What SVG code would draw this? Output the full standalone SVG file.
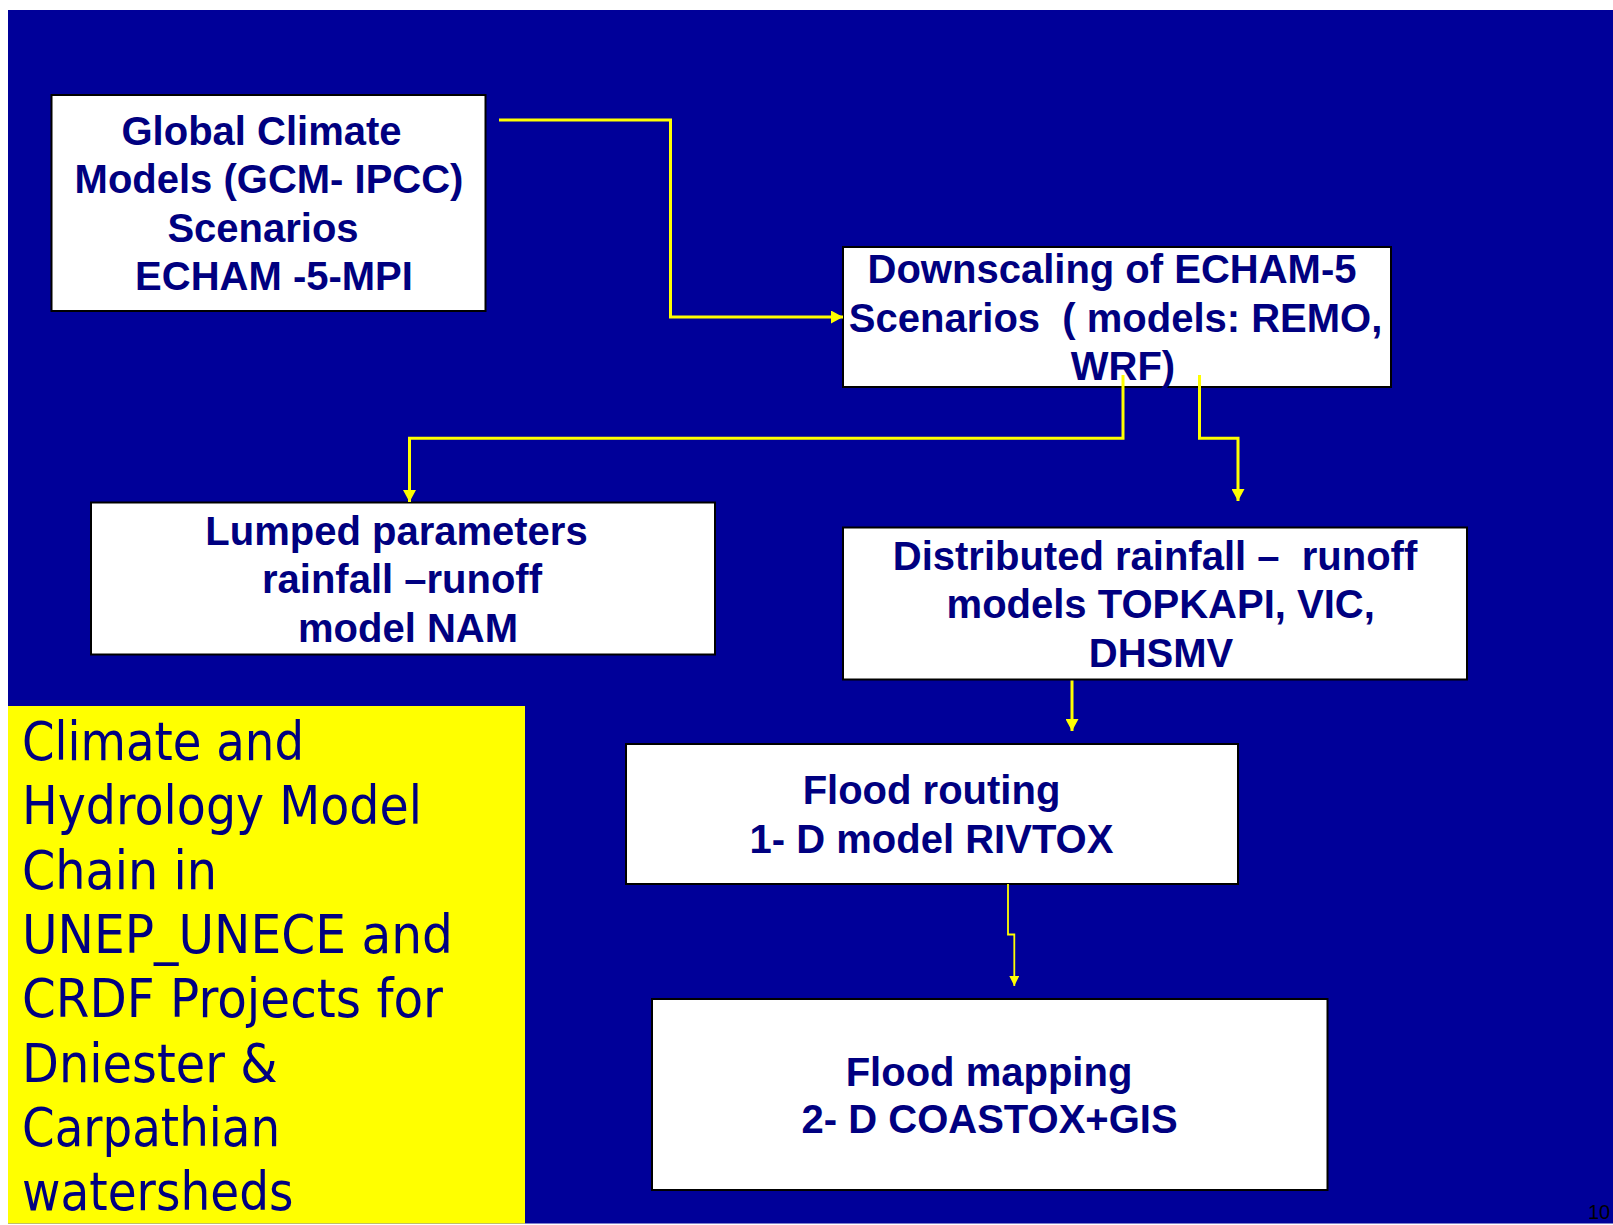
<svg xmlns="http://www.w3.org/2000/svg" width="1613" height="1225" viewBox="0 0 1613 1225">
<style>
.box{fill:#ffffff;stroke:#000000;stroke-width:2}
.bt{font-family:"Liberation Sans",Arial,sans-serif;font-weight:bold;font-size:40px;fill:#000080;text-anchor:middle}
.yt{font-family:"DejaVu Sans",Verdana,sans-serif;font-size:53px;fill:#000080}
.con{fill:none;stroke:#ffff00;stroke-width:3}
.thin{stroke-width:1.8}
</style>
<defs>
<marker id="ah" markerUnits="userSpaceOnUse" markerWidth="13" markerHeight="13" refX="12" refY="6.5" orient="auto">
<path d="M0,0 L12,6.5 L0,13 z" fill="#ffff00"/>
</marker>
<marker id="ahs" markerUnits="userSpaceOnUse" markerWidth="11" markerHeight="10" refX="10" refY="5" orient="auto">
<path d="M0,0 L10,5 L0,10 z" fill="#ffff00"/>
</marker>
</defs>
<rect x="0" y="0" width="1613" height="1225" fill="#ffffff"/>
<rect x="8" y="10" width="1605" height="1213.5" fill="#000099"/>

<g id="legend">
<rect x="8" y="706" width="517" height="517.5" fill="#ffff00"/>
<text class="yt" x="22" y="760" textLength="282" lengthAdjust="spacingAndGlyphs">Climate and</text>
<text class="yt" x="22" y="824.3" textLength="400" lengthAdjust="spacingAndGlyphs">Hydrology Model</text>
<text class="yt" x="22" y="888.6" textLength="195" lengthAdjust="spacingAndGlyphs">Chain in</text>
<text class="yt" x="22" y="952.9" textLength="431" lengthAdjust="spacingAndGlyphs">UNEP_UNECE and</text>
<text class="yt" x="22" y="1017.2" textLength="421" lengthAdjust="spacingAndGlyphs">CRDF Projects for</text>
<text class="yt" x="22" y="1081.5" textLength="255.5" lengthAdjust="spacingAndGlyphs">Dniester &amp;</text>
<text class="yt" x="22" y="1145.8" textLength="258" lengthAdjust="spacingAndGlyphs">Carpathian</text>
<text class="yt" x="22" y="1210" textLength="271.5" lengthAdjust="spacingAndGlyphs">watersheds</text>
</g>

<g id="gcm">
<rect class="box" x="51.5" y="95" width="434" height="216"/>
<text class="bt" x="261.5" y="145">Global Climate</text>
<text class="bt" x="269" y="193.3">Models (GCM- IPCC)</text>
<text class="bt" x="263" y="241.7">Scenarios</text>
<text class="bt" x="274" y="290">ECHAM -5-MPI</text>
</g>

<g id="downscaling">
<rect class="box" x="843" y="247" width="548" height="140"/>
<text class="bt" x="1112" y="283.3">Downscaling of ECHAM-5</text>
<text class="bt" x="1115.6" y="331.7">Scenarios &#160;( models: REMO,</text>
<text class="bt" x="1123" y="380">WRF)</text>
</g>

<g id="lumped">
<rect class="box" x="91" y="502.5" width="624" height="152"/>
<text class="bt" x="396.5" y="545">Lumped parameters</text>
<text class="bt" x="402" y="592.7">rainfall –runoff</text>
<text class="bt" x="408" y="641.7">model NAM</text>
</g>

<g id="distributed">
<rect class="box" x="843" y="527.5" width="624" height="152"/>
<text class="bt" x="1155" y="570">Distributed rainfall – &#160;runoff</text>
<text class="bt" x="1160.7" y="618.3">models TOPKAPI, VIC,</text>
<text class="bt" x="1161" y="666.7">DHSMV</text>
</g>

<g id="routing">
<rect class="box" x="626" y="744" width="612" height="140"/>
<text class="bt" x="931.5" y="804">Flood routing</text>
<text class="bt" x="931.5" y="853.3">1- D model RIVTOX</text>
</g>

<g id="mapping">
<rect class="box" x="652" y="999" width="675.5" height="191"/>
<text class="bt" x="989" y="1086">Flood mapping</text>
<text class="bt" x="989.6" y="1133.3">2- D COASTOX+GIS</text>
</g>

<g id="connectors">
<path class="con" d="M499,120 H670.5 V317 H843" marker-end="url(#ah)"/>
<path class="con" d="M1123,375 V438.3 H409.5 V502" marker-end="url(#ah)"/>
<path class="con" d="M1199.5,375 V438.3 H1238 V501" marker-end="url(#ah)"/>
<path class="con" d="M1072,680.5 V731" marker-end="url(#ah)"/>
<path class="con thin" d="M1008,884 V934.5 H1014.3 V986" marker-end="url(#ahs)"/>
</g>

<text x="1588" y="1219" font-family="Liberation Sans, Arial, sans-serif" font-size="20" fill="#000000">10</text>
</svg>
